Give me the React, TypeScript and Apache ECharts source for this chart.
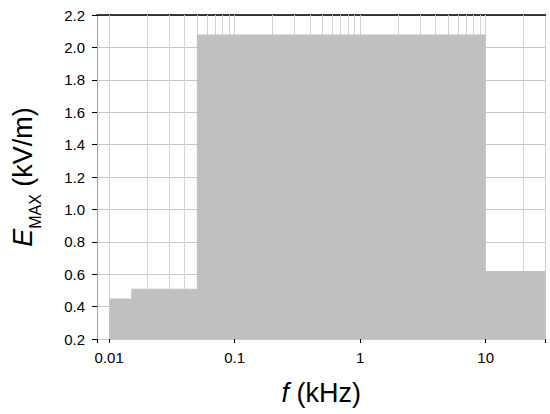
import React, { useEffect, useRef } from "react";
import * as echarts from "echarts";

// Step profile of E_MAX vs frequency
const stepFreqs = [0.01, 0.015, 0.05, 10, 30];
const stepValues = [0.45, 0.51, 2.08, 0.62, 0.62];

// Axis ticks
const xMajorTicks = [0.01, 0.1, 1, 10];

// Vertical (log) grid lines
const xGridLines = [
  0.009, 0.01, 0.02, 0.03, 0.04, 0.05, 0.06, 0.07, 0.08, 0.09,
  0.1, 0.2, 0.3, 0.4, 0.5, 0.6, 0.7, 0.8, 0.9,
  1, 2, 3, 4, 5, 6, 7, 8, 9,
  10, 20,
];

const FONT = "'Liberation Sans', Arial, sans-serif";

export default function App() {
  const ref = useRef<HTMLDivElement>(null);

  useEffect(() => {
    if (!ref.current) return;
    const chart = echarts.init(ref.current, null, { renderer: "svg" });
    const fmt = (v: number) => String(+Number(v).toPrecision(3));
    chart.setOption({
      animation: false,
      backgroundColor: "#ffffff",
      grid: { left: 97, right: 4.5, top: 15, bottom: 75, containLabel: false },
      xAxis: [
        {
          type: "log",
          logBase: 10,
          min: 0.008,
          max: 30,
          position: "bottom",
          axisLine: { show: true, lineStyle: { color: "#ffffff", opacity: 0 } },
          axisTick: {
            show: true,
            length: 4,
            inside: false,
            lineStyle: { color: "#000", width: 1 },
          },
          axisLabel: {
            show: true,
            customValues: xMajorTicks,
            formatter: fmt,
            margin: 11,
            fontSize: 15,
            fontFamily: FONT,
            color: "#000",
          },
          splitLine: { show: false },
          name: "{i|f}{n| (kHz)}",
          nameLocation: "middle",
          nameGap: 40,
          nameTextStyle: {
            rich: {
              i: { fontSize: 27, fontStyle: "italic", fontFamily: FONT, color: "#000" },
              n: { fontSize: 27, fontFamily: FONT, color: "#000" },
            },
          },
        },
        {
          type: "log",
          logBase: 10,
          min: 0.008,
          max: 30,
          position: "top",
          axisLine: { show: true, lineStyle: { color: "#000", width: 1.5 } },
          axisTick: { show: false },
          axisLabel: { show: false },
          splitLine: { show: false },
        },
      ],
      yAxis: [
        {
          type: "value",
          min: 0.2,
          max: 2.2,
          interval: 0.2,
          position: "left",
          axisLine: { show: true, lineStyle: { color: "#a0a0a0", width: 1 } },
          axisTick: {
            show: true,
            length: 5,
            lineStyle: { color: "#000" },
          },
          axisLabel: {
            formatter: (v: number) => Number(v).toFixed(1),
            margin: 12,
            fontSize: 15,
            fontFamily: FONT,
            color: "#000",
          },
          splitLine: { show: true, lineStyle: { color: "#c8c8c8", width: 1 } },
          name: "{e|E}{s|MAX}{u| (kV/m)}",
          nameLocation: "middle",
          nameRotate: 90,
          nameGap: 54,
          nameTextStyle: {
            rich: {
              e: { fontSize: 27, fontStyle: "italic", fontFamily: FONT, color: "#000", lineHeight: 40 },
              s: { fontSize: 16, fontFamily: FONT, color: "#000", lineHeight: 40, verticalAlign: "bottom" },
              u: { fontSize: 27, fontFamily: FONT, color: "#000", lineHeight: 40 },
            },
          },
        },
        {
          type: "value",
          min: 0.2,
          max: 2.2,
          interval: 0.2,
          position: "right",
          axisLine: { show: true, lineStyle: { color: "#d0d0d0", width: 1 } },
          axisTick: { show: false },
          axisLabel: { show: false },
          splitLine: { show: false },
        },
      ],
      series: [
        {
          type: "line",
          name: "grid",
          data: [],
          z: 1,
          silent: true,
          markLine: {
            z: 1,
            silent: true,
            symbol: ["none", "none"],
            label: { show: false },
            lineStyle: { color: "#d4d4d4", width: 1, type: "solid" },
            data: xGridLines.map((v) => ({ xAxis: v })),
          },
        },
        {
          type: "line",
          name: "EMAX",
          z: 3,
          step: "end",
          symbol: "none",
          data: stepFreqs.map((f, i) => [f, stepValues[i]]),
          lineStyle: { color: "#c0c0c0", width: 0 },
          areaStyle: { color: "#c0c0c0", opacity: 1, origin: "start" },
        },
      ],
    });
    return () => chart.dispose();
  }, []);

  return (
    <div
      ref={ref}
      style={{ position: "fixed", left: 0, top: 0, width: 550, height: 414 }}
    />
  );
}
